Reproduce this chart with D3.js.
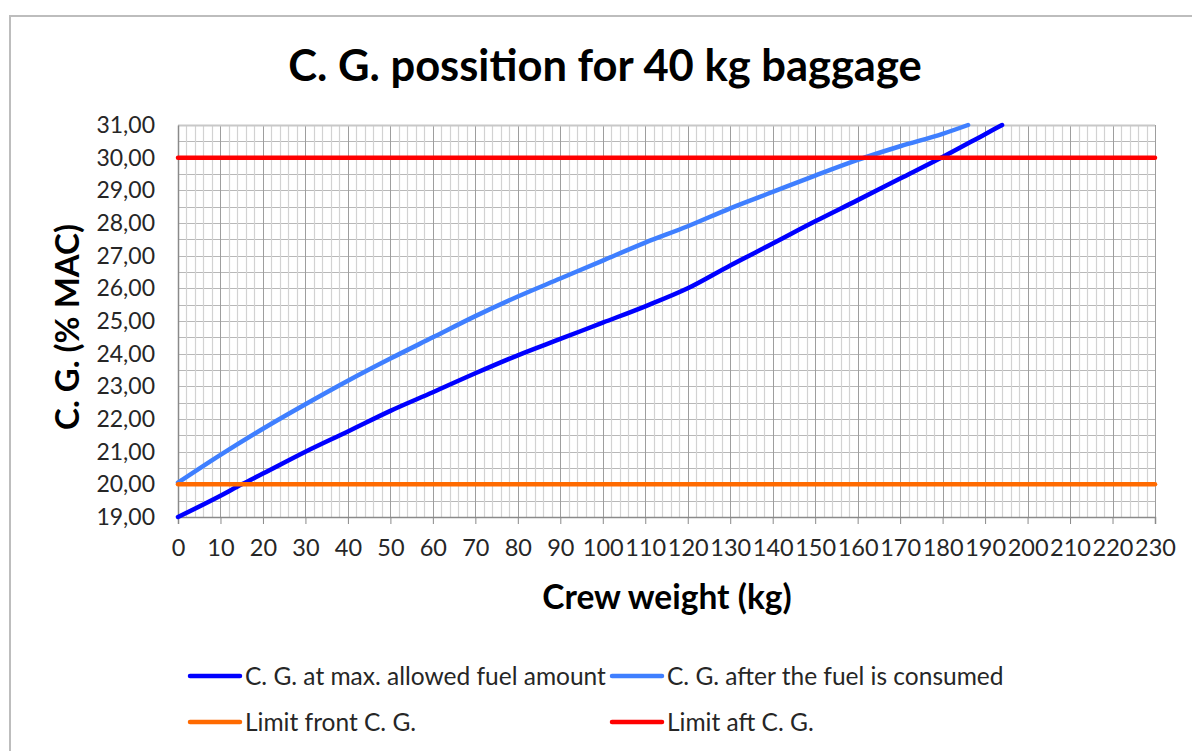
<!DOCTYPE html>
<html><head><meta charset="utf-8">
<script src="https://cdn.jsdelivr.net/npm/d3@7"></script>
<style>
html,body{margin:0;padding:0;background:#fff;}
svg{display:block;font-family:Lato,"Open Sans",sans-serif;}
</style></head>
<body>
<svg id="c" width="1192" height="751"></svg>
<script>
const title = "C. G. possition for 40 kg baggage";
const xTitle = "Crew weight (kg)";
const yTitle = "C. G. (% MAC)";
const xTicks = d3.range(0, 231, 10);
const yTicks = d3.range(19, 31.01, 1);
const crewMax = [0,10,15,20,30,40,50,60,70,80,90,100,110,120,130,140,150,160,170,180,190,194];
const cgMax   = [19.0,19.65,20.0,20.33,21.0,21.62,22.25,22.82,23.4,23.95,24.45,24.95,25.45,26.0,26.7,27.37,28.05,28.7,29.36,30.02,30.72,31.0];
const crewAfter = [0,10,20,30,40,50,60,70,80,90,100,110,120,130,140,150,160,170,180,186];
const cgAfter   = [20.05,20.9,21.7,22.45,23.17,23.85,24.5,25.15,25.75,26.3,26.85,27.4,27.9,28.45,28.95,29.45,29.93,30.35,30.73,31.0];
const limitFront = 20;
const limitAft = 30;
const seriesNames = ["C. G. at max. allowed fuel amount","C. G. after the fuel is consumed","Limit front C. G.","Limit aft C. G."];
const seriesColors = ["#0000ff","#3f7fff","#ff6a00","#ff0000"];

const svg = d3.select("#c");
svg.append("path").attr("d","M10,760 V16 H1200").attr("fill","none").attr("stroke","#bdbdbd").attr("stroke-width",2);

const L=178, R=1155, T=125, B=517;
const x = d3.scaleLinear().domain([0,230]).range([L,R]);
const y = d3.scaleLinear().domain([19,31]).range([B,T]);

const g = svg.append("g");
g.selectAll(".hg").data(d3.range(19.5,31.01,0.5)).join("line")
 .attr("x1",L).attr("x2",R).attr("y1",d=>Math.round(y(d))+0.5).attr("y2",d=>Math.round(y(d))+0.5)
 .attr("stroke","#b8b8b8").attr("stroke-width",1);
g.selectAll(".vg").data(d3.range(2,231,2).filter(d=>d%10!==0)).join("line")
 .attr("y1",T).attr("y2",B).attr("x1",d=>Math.round(x(d))+0.5).attr("x2",d=>Math.round(x(d))+0.5)
 .attr("stroke","#d2d2d2").attr("stroke-width",1.2);
g.selectAll(".vM").data(d3.range(10,231,10)).join("line")
 .attr("y1",T).attr("y2",B).attr("x1",d=>Math.round(x(d))+0.5).attr("x2",d=>Math.round(x(d))+0.5)
 .attr("stroke","#9e9e9e").attr("stroke-width",1);
g.append("line").attr("x1",L).attr("x2",R).attr("y1",T+0.5).attr("y2",T+0.5).attr("stroke","#c8c8c8").attr("stroke-width",2);

const xAxis = d3.axisBottom(x).tickValues(xTicks).tickSize(7).tickFormat(d3.format("d"));
const xa = svg.append("g").attr("transform",`translate(0,${B})`).call(xAxis);
xa.select(".domain").attr("stroke","#8a8a8a").attr("stroke-width",1.5);
xa.selectAll(".tick line").attr("stroke","#8a8a8a");
xa.selectAll("text").attr("font-size",23.5).attr("fill","#262626").attr("dy","1.25em").attr("font-family","Lato");

const yAxis = d3.axisLeft(y).tickValues(yTicks).tickSize(0).tickPadding(23).tickFormat(d=>d3.format(".2f")(d).replace(".",","));
const ya = svg.append("g").attr("transform",`translate(${L},0)`).call(yAxis);
ya.select(".domain").attr("stroke","#8a8a8a").attr("stroke-width",1.5);
ya.selectAll("text").attr("font-size",23).attr("fill","#262626").attr("font-family","Lato");

const line = d3.line().x(d=>x(d[0])).y(d=>y(d[1])).curve(d3.curveMonotoneX);
svg.append("path").datum(crewAfter.map((c,i)=>[c,cgAfter[i]])).attr("d",line)
 .attr("fill","none").attr("stroke",seriesColors[1]).attr("stroke-width",4.5).attr("stroke-linecap","round");
svg.append("path").datum(crewMax.map((c,i)=>[c,cgMax[i]])).attr("d",line)
 .attr("fill","none").attr("stroke",seriesColors[0]).attr("stroke-width",4.5).attr("stroke-linecap","round");
svg.append("line").attr("x1",x(0)).attr("x2",x(230)).attr("y1",y(limitFront)).attr("y2",y(limitFront))
 .attr("stroke",seriesColors[2]).attr("stroke-width",4.5).attr("stroke-linecap","round");
svg.append("line").attr("x1",x(0)).attr("x2",x(230)).attr("y1",y(limitAft)).attr("y2",y(limitAft))
 .attr("stroke",seriesColors[3]).attr("stroke-width",4.5).attr("stroke-linecap","round");

svg.append("text").attr("x",605).attr("y",81).attr("text-anchor","middle")
 .attr("font-size",43.5).attr("font-weight","bold").attr("fill","#000").text(title);
svg.append("text").attr("x",667).attr("y",609).attr("text-anchor","middle")
 .attr("font-size",33.5).attr("font-weight","bold").attr("fill","#000").text(xTitle);
svg.append("text").attr("transform","translate(79,327) rotate(-90)").attr("text-anchor","middle")
 .attr("font-size",33).attr("font-weight","bold").attr("fill","#000").text(yTitle);

const legPos = [[190,676],[612,676],[190,722],[612,722]];
seriesNames.forEach((n,i)=>{
  const [lx,ly]=legPos[i];
  svg.append("line").attr("x1",lx).attr("x2",lx+50).attr("y1",ly).attr("y2",ly)
    .attr("stroke",seriesColors[i]).attr("stroke-width",4.5).attr("stroke-linecap","round");
  svg.append("text").attr("x",lx+55).attr("y",ly).attr("dy","0.35em")
    .attr("font-size",24.5).attr("fill","#262626").text(n);
});
</script>
</body></html>
